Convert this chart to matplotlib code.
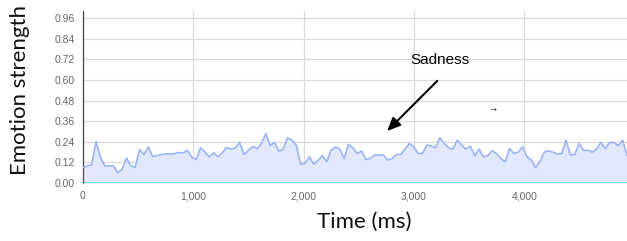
import numpy as np
import matplotlib
matplotlib.use("Agg")
import matplotlib.pyplot as plt

# Sadness emotion strength, sampled uniformly over ~4930 ms
sadness = [
    0.09, 0.10, 0.105, 0.24, 0.15, 0.10, 0.10, 0.10, 0.06, 0.08, 0.145, 0.10, 0.09,
    0.195, 0.165, 0.21, 0.155, 0.16, 0.165, 0.17, 0.17, 0.17, 0.178, 0.175, 0.19,
    0.15, 0.137,
    0.205, 0.18, 0.153, 0.176, 0.153, 0.176, 0.207, 0.197, 0.205, 0.236, 0.166,
    0.19, 0.213, 0.20, 0.23, 0.288, 0.217, 0.236, 0.186, 0.197, 0.263, 0.25, 0.22,
    0.11, 0.114, 0.153, 0.11, 0.13, 0.159, 0.124, 0.19, 0.21, 0.197, 0.143, 0.225,
    0.205, 0.172, 0.186, 0.137, 0.143, 0.163, 0.163, 0.163, 0.134, 0.143, 0.166,
    0.166, 0.197, 0.23, 0.21, 0.172, 0.172, 0.22, 0.217, 0.205, 0.263, 0.23, 0.205,
    0.197, 0.25, 0.22, 0.197, 0.215, 0.159, 0.197, 0.153, 0.159, 0.188, 0.172, 0.143,
    0.124, 0.20, 0.172, 0.18, 0.21, 0.153, 0.134, 0.089, 0.124, 0.18, 0.188, 0.18,
    0.168, 0.172, 0.25, 0.163, 0.166, 0.23, 0.19, 0.19, 0.18, 0.197, 0.236, 0.20,
    0.236, 0.236, 0.217, 0.25, 0.16,
]
end_time_ms = 4930
time_ms = np.linspace(0, end_time_ms, len(sadness))

y_ticks = [0.00, 0.12, 0.24, 0.36, 0.48, 0.60, 0.72, 0.84, 0.96]
x_ticks = [0, 1000, 2000, 3000, 4000]
x_tick_labels = ["0", "1,000", "2,000", "3,000", "4,000"]

fig = plt.figure(figsize=(6.27, 2.41), dpi=100)
ax = fig.add_axes([83 / 627, 58 / 241, 1 - 83 / 627, (183 - 11.3) / 241])

ax.fill_between(time_ms, 0, sadness, color="#e2e9fc", zorder=2, linewidth=0)
ax.plot(time_ms, sadness, color="#99b4f7", linewidth=1.2, zorder=3)
ax.axhline(0, color="#2ee6c8", linewidth=1.8, zorder=4)

ax.set_xlim(0, end_time_ms)
ax.set_ylim(0, 1.0)
ax.set_yticks(y_ticks)
ax.set_yticklabels([f"{v:.2f}" for v in y_ticks])
ax.set_xticks(x_ticks)
ax.set_xticklabels(x_tick_labels)
ax.grid(True, color="#d9d9d9", linewidth=0.9, zorder=1)
ax.set_axisbelow(True)
for s in ["top", "right", "bottom"]:
    ax.spines[s].set_visible(False)
ax.spines["left"].set_color("#444444")
ax.spines["left"].set_linewidth(0.9)
ax.tick_params(length=0, labelsize=7.5, labelcolor="#666666", pad=6)
for lab in ax.get_xticklabels() + ax.get_yticklabels():
    lab.set_family("Liberation Sans")

fig.text(20 / 627, 1 - 90 / 241, "Emotion strength", rotation=90, ha="center",
         va="center", fontsize=16, family="Lato", color="#111111")
fig.text(364 / 627, 1 - 222 / 241, "Time (ms)", ha="center", va="center",
         fontsize=16, family="Lato", color="#111111")

ax.annotate("", xy=(2738, 0.291), xytext=(3228, 0.606),
            arrowprops=dict(arrowstyle="-|>,head_length=0.8,head_width=0.35",
                            color="black", lw=1.5), zorder=5)
ax.text(3237, 0.716, "Sadness", ha="center", va="center", fontsize=11,
        family="Liberation Sans", color="black")
ax.text(3717, 0.419, "\u2192", ha="center", va="center", fontsize=5, color="#333333")

fig.savefig("out.png", dpi=100)
